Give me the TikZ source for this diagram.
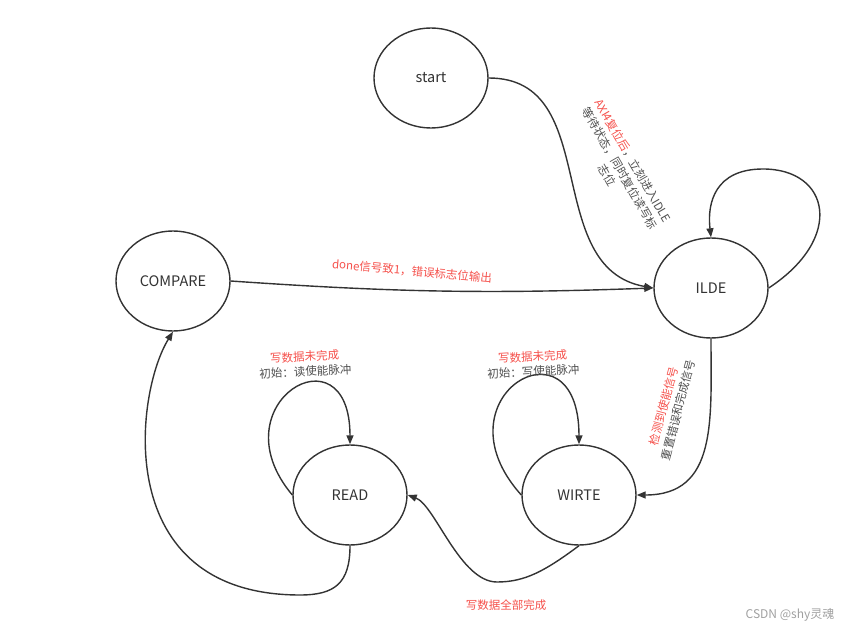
\documentclass[tikz,border=0pt]{standalone}
\usepackage{fontspec}
\usetikzlibrary{shapes.geometric, arrows.meta, positioning}
\newfontfamily\cjk{Noto Sans CJK SC}
\definecolor{hotred}{HTML}{F5504B}
\definecolor{inkgray}{HTML}{333333}
\definecolor{notegray}{HTML}{505050}
\definecolor{markgray}{HTML}{A0A0A0}
\newcommand{\fsmstate}[3]{%
    \node[state] (#1) at #2 {#3};%
}

\begin{document}
\begin{tikzpicture}[
        x=1pt,
        y=1pt,
        state/.style={ellipse, draw=inkgray, line width=1.4pt, fill=white,
                      minimum width=114pt, minimum height=100pt, inner sep=0pt,
                      text=inkgray, font=\cjk\fontsize{14.5}{16}\selectfont},
        link/.style={-{Triangle[length=9pt, width=7pt]}, line width=1.4pt, draw=inkgray},
        hint/.style={font=\cjk\fontsize{11.5}{15}\selectfont, text=notegray, align=center, inner sep=1pt},
        watermark/.style={font=\cjk\fontsize{12}{14}\selectfont, text=markgray, inner sep=1pt}
    ]
        \useasboundingbox (0,0) rectangle (863,633);

        \fsmstate{start}{(431,555)}{start}
        \fsmstate{ILDE}{(711,345)}{ILDE}
        \fsmstate{COMPARE}{(173,352)}{COMPARE}
        \fsmstate{READ}{(350,138)}{READ}
        \fsmstate{WIRTE}{(579,138)}{WIRTE}

        % transitions
        \draw[link] (start.east) to[out=0, in=170, looseness=1.1] (ILDE.west);
        \draw[link] (COMPARE.east) to[bend right=3] (ILDE.west);
        \draw[link] (ILDE.east) .. controls (845,395) and (830,464) .. (763,464)
                    .. controls (715,464) and (707,430) .. (ILDE.north);
        \draw[link] (ILDE.south) to[out=-90, in=0, looseness=1.2] (WIRTE.east);
        \draw[link] (WIRTE.south) .. controls (545,62) and (525,51) .. (497,51)
                    .. controls (460,51) and (435,128) .. (READ.east);
        \draw[link] (READ.south) .. controls (350,50) and (335,38) .. (300,38)
                    .. controls (110,38) and (135,240) .. (COMPARE.south);
        \draw[link] (READ.west) to[out=130, in=90, looseness=4] (READ.north);
        \draw[link] (WIRTE.west) to[out=132, in=90, looseness=4.4] (WIRTE.north);

        % labels
        \node[hint, rotate=-60] (resetnote) at (620,465)
            {\textcolor{hotred}{AXI4复位后}，立刻进入IDLE\\等待状态，同时复位读写标\\志位};
        \node[hint, rotate=-5, text=hotred] (donenote) at (412,362)
            {done信号致1，错误标志位输出};
        \node[hint, rotate=3] (readnote) at (305,269)
            {\textcolor{hotred}{写数据未完成}\\初始：读使能脉冲};
        \node[hint, rotate=3] (writenote) at (533,269)
            {\textcolor{hotred}{写数据未完成}\\初始：写使能脉冲};
        \node[hint, rotate=75] (enablenote) at (671,225)
            {\textcolor{hotred}{检测到使能信号}\\重置错误和完成信号};
        \node[hint, text=hotred] (allnote) at (506,28) {写数据全部完成};
        \node[watermark] (wmark) at (790,18) {CSDN @shy灵魂};
    \end{tikzpicture}
\end{document}
